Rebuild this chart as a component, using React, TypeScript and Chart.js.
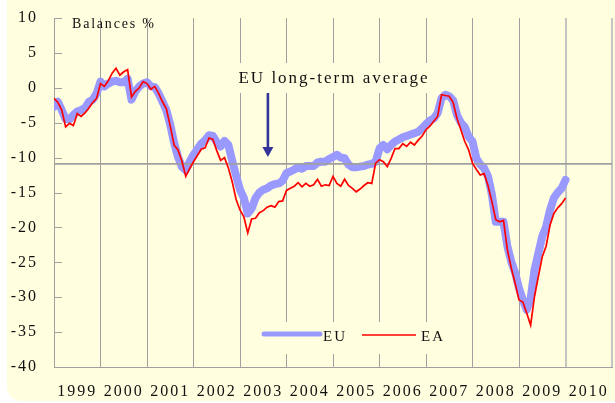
import React, { useEffect, useRef } from 'react';
import { Chart, registerables } from 'chart.js';

Chart.register(...registerables);

// ---------- data ----------
const START_YEAR = 1999; // first monthly observation: January 1999
const YEAR_LABELS = ['1999', '2000', '2001', '2002', '2003', '2004', '2005', '2006', '2007', '2008', '2009', '2010'];
const Y_TICKS = [10, 5, 0, -5, -10, -15, -20, -25, -30, -35, -40];
const EU_LONG_TERM_AVERAGE = -10.9;

const EU = [
  -2.7, -2.0, -3.2, -4.5, -4.5, -3.9, -3.4, -3.2, -2.9, -2.0, -1.7, -0.8,
  0.9, 0.2, 0.6, 0.9, 1.0, 0.8, 0.8, 1.3, -1.7, -0.5, 0.2, 0.6,
  0.8, 0.2, 0.1, -0.8, -2.0, -3.2, -5.3, -7.9, -9.9, -11.3, -11.8, -10.6,
  -9.6, -8.8, -8.0, -7.5, -6.8, -6.9, -7.8, -8.4, -7.6, -8.2, -10.5, -12.6,
  -14.6, -15.8, -18.0, -17.3, -15.8, -15.0, -14.6, -14.4, -14.0, -13.8, -13.7, -13.3,
  -12.2, -12.0, -11.7, -11.4, -11.6, -11.2, -11.2, -11.2, -10.7, -10.6, -10.6, -10.2,
  -9.9, -9.6, -10.0, -10.1, -11.0, -11.4, -11.4, -11.3, -11.2, -11.0, -10.9, -10.6,
  -8.7, -8.2, -8.8, -8.2, -7.7, -7.4, -7.1, -6.9, -6.7, -6.5, -6.3, -5.8,
  -5.2, -4.7, -4.4, -3.6, -1.5, -1.0, -1.2, -1.8, -3.9, -5.0, -5.6, -7.0,
  -7.7, -10.1, -11.0, -11.5, -12.7, -15.3, -19.2, -19.2, -19.2, -22.7, -24.9, -26.5,
  -28.7, -30.4, -31.8, -30.2, -26.1, -23.7, -21.3, -19.9, -17.5, -15.8, -15.0, -14.4,
  -13.2,
];

const EA = [
  -1.5, -2.1, -3.2, -5.6, -5.1, -5.4, -3.7, -4.1, -3.6, -2.9, -2.1, -1.5,
  0.6, 0.2, 1.0, 2.1, 2.8, 1.8, 2.3, 2.6, -1.3, -0.5, 0.0, 0.9,
  0.6, -0.2, 0.2, -0.8, -2.0, -3.0, -5.5, -8.2, -8.9, -10.5, -12.7, -11.6,
  -10.6, -9.7, -8.8, -8.6, -7.2, -7.4, -9.0, -10.4, -10.0, -11.5, -13.5, -16.0,
  -17.5, -18.5, -20.8, -18.8, -18.7, -17.9, -17.6, -17.1, -16.9, -17.1, -16.3, -16.2,
  -14.7, -14.4, -14.1, -13.6, -14.2, -13.7, -14.1, -13.9, -13.1, -14.1, -13.9, -14.0,
  -12.7, -13.7, -14.1, -13.1, -14.0, -14.4, -14.9, -14.5, -14.0, -13.6, -13.7, -10.8,
  -10.3, -10.6, -11.3, -10.1, -8.7, -8.7, -8.0, -8.4, -7.8, -8.2, -7.5, -6.9,
  -6.0, -5.5, -4.8, -4.1, -1.0, -1.1, -1.2, -2.1, -4.4, -6.0, -7.7, -8.9,
  -10.8, -11.7, -12.5, -12.3, -14.0, -16.3, -18.9, -19.2, -19.0, -23.2, -25.8, -28.0,
  -30.4, -30.7, -32.3, -34.0, -29.9, -27.0, -24.2, -22.7, -19.7, -18.0, -17.2, -16.6,
  -15.8,
];

const ANNOTATION_TEXT = 'EU long-term average';
const ANNOTATION_YEAR = 2005;
const ARROW_YEAR = 2003.6;
const ARROW_TIP = -9.9;
const AXIS_TITLE = 'Balances %';
const LEGEND_EU = 'EU';
const LEGEND_EA = 'EA';

// ---------- styles ----------
const BG = '#FFFFE0';
const GRID = '#A0A0A0';
const GRID_LIGHT = '#C4C4C0';
const EU_COLOR = '#9999FF';
const EA_COLOR = '#FF0000';
const ARROW_COLOR = '#333399';
const TEXT = '#111111';
const FONT = '"Liberation Serif", "Times New Roman", serif';

const toPoints = (values: number[]) => values.map((v, i) => ({ x: START_YEAR + i / 12, y: v }));
const X_MIN = START_YEAR;
const X_MAX = START_YEAR + YEAR_LABELS.length;

function text(ctx: CanvasRenderingContext2D, s: string, x: number, y: number, size: number, align: CanvasTextAlign, spacing = 2) {
  ctx.font = `${size}px ${FONT}`;
  (ctx as any).letterSpacing = `${spacing}px`;
  ctx.textAlign = align;
  ctx.textBaseline = 'alphabetic';
  ctx.fillStyle = TEXT;
  ctx.fillText(s, x, y);
}

const zeroPadding = (scale: any) => {
  scale.paddingLeft = 0;
  scale.paddingRight = 0;
  scale.paddingTop = 0;
  scale.paddingBottom = 0;
};

const decor = {
  id: 'decor',
  beforeDraw(chart: any) {
    (chart.ctx as any).letterSpacing = '2px';
  },
  beforeDatasetsDraw(chart: any) {
    const { ctx, chartArea, scales } = chart;
    const xs = scales.x;
    const ys = scales.y;
    const L = chartArea.left;
    ctx.save();
    // inner tick marks on the y axis
    ctx.strokeStyle = GRID;
    ctx.lineWidth = 1;
    Y_TICKS.forEach((v) => {
      const py = Math.round(ys.getPixelForValue(v)) + 0.5;
      ctx.beginPath();
      ctx.moveTo(L, py);
      ctx.lineTo(L + 8, py);
      ctx.stroke();
    });
    // axis title
    text(ctx, AXIS_TITLE, L + 18, chartArea.top + 10, 14, 'left', 1.8);
    // annotation box + text
    ctx.font = `17px ${FONT}`;
    (ctx as any).letterSpacing = '2px';
    const tw = ctx.measureText(ANNOTATION_TEXT).width;
    const cx = xs.getPixelForValue(ANNOTATION_YEAR) + 1;
    const base = chartArea.top + 65;
    ctx.fillStyle = BG;
    ctx.fillRect(cx - tw / 2 - 5, base - 20, tw + 10, 30);
    text(ctx, ANNOTATION_TEXT, cx, base, 17, 'center');
    // legend
    const ly = chartArea.bottom - 33;
    ctx.fillStyle = BG;
    ctx.fillRect(L + 196, ly - 12, 202, 32);
    ctx.lineCap = 'round';
    ctx.strokeStyle = EU_COLOR;
    ctx.lineWidth = 5;
    ctx.beginPath();
    ctx.moveTo(L + 210, ly);
    ctx.lineTo(L + 266, ly);
    ctx.stroke();
    text(ctx, LEGEND_EU, L + 269, ly + 7, 15, 'left');
    ctx.lineCap = 'butt';
    ctx.strokeStyle = EA_COLOR;
    ctx.lineWidth = 1.6;
    ctx.beginPath();
    ctx.moveTo(L + 308, ly + 1);
    ctx.lineTo(L + 362, ly + 1);
    ctx.stroke();
    text(ctx, LEGEND_EA, L + 367, ly + 7, 15, 'left');
    ctx.restore();
  },
  afterDatasetsDraw(chart: any) {
    const { ctx, chartArea, scales } = chart;
    const px = scales.x.getPixelForValue(ARROW_YEAR);
    const tip = scales.y.getPixelForValue(ARROW_TIP);
    const top = chartArea.top + 75;
    ctx.save();
    ctx.strokeStyle = ARROW_COLOR;
    ctx.fillStyle = ARROW_COLOR;
    ctx.lineWidth = 2.6;
    ctx.beginPath();
    ctx.moveTo(px, top);
    ctx.lineTo(px, tip - 9);
    ctx.stroke();
    ctx.beginPath();
    ctx.moveTo(px - 5.5, tip - 10);
    ctx.lineTo(px + 5.5, tip - 10);
    ctx.lineTo(px, tip);
    ctx.closePath();
    ctx.fill();
    ctx.restore();
  },
};

export default function App() {
  const ref = useRef<HTMLCanvasElement>(null);
  useEffect(() => {
    const chart = new Chart(ref.current as HTMLCanvasElement, {
      type: 'line',
      data: {
        datasets: [
          {
            label: 'EA',
            data: toPoints(EA),
            borderColor: EA_COLOR,
            borderWidth: 1.7,
            pointRadius: 0,
            tension: 0,
            order: 0,
          },
          {
            label: 'EU long-term average',
            data: [
              { x: X_MIN, y: EU_LONG_TERM_AVERAGE },
              { x: X_MAX, y: EU_LONG_TERM_AVERAGE },
            ],
            borderColor: GRID,
            borderWidth: 1.8,
            pointRadius: 0,
            order: 1,
          },
          {
            label: 'EU',
            data: toPoints(EU),
            borderColor: EU_COLOR,
            borderWidth: 8,
            borderJoinStyle: 'round',
            borderCapStyle: 'round',
            pointRadius: 0,
            tension: 0,
            order: 2,
          },
        ],
      } as any,
      options: {
        animation: false,
        responsive: false,
        maintainAspectRatio: false,
        events: [],
        layout: { padding: { left: 0, right: 3, top: 18, bottom: 0 } },
        plugins: { legend: { display: false }, tooltip: { enabled: false } },
        scales: {
          x: {
            type: 'linear',
            min: X_MIN,
            max: X_MAX,
            afterBuildTicks: (scale: any) => {
              const t: any[] = [];
              for (let i = 0; i <= YEAR_LABELS.length * 2; i++) t.push({ value: X_MIN + i / 2 });
              scale.ticks = t;
            },
            afterFit: (scale: any) => {
              scale.height = 36;
              zeroPadding(scale);
            },
            ticks: {
              autoSkip: false,
              maxRotation: 0,
              padding: 15,
              color: TEXT,
              font: { family: FONT, size: 16 },
              callback: (v: any) => {
                const idx = Math.floor(Number(v) - X_MIN);
                return Number(v) % 1 === 0.5 ? YEAR_LABELS[idx] : '';
              },
            },
            grid: {
              drawTicks: false,
              color: (c: any) => {
                if (!c.tick || !Number.isInteger(c.tick.value)) return 'rgba(0,0,0,0)';
                return c.tick.value >= X_MAX - 1 ? GRID_LIGHT : GRID;
              },
              lineWidth: (c: any) => (c.tick && c.tick.value >= X_MAX - 1 ? 2 : 1),
            },
            border: { display: true, color: GRID, width: 1 },
          },
          y: {
            type: 'linear',
            min: -40,
            max: 10,
            afterBuildTicks: (scale: any) => {
              scale.ticks = Y_TICKS.map((v) => ({ value: v }));
            },
            afterFit: (scale: any) => {
              scale.width = 54;
              zeroPadding(scale);
            },
            ticks: {
              padding: 16,
              color: TEXT,
              font: { family: FONT, size: 16 },
              callback: (v: any) => String(v),
            },
            grid: { display: false, drawTicks: false },
            border: { display: true, color: GRID, width: 1 },
          },
        },
      } as any,
      plugins: [decor],
    });
    return () => chart.destroy();
  }, []);

  return (
    <div style={{ position: 'absolute', left: 0, top: 0, width: 615, height: 403, background: '#ffffff', overflow: 'hidden' }}>
      <div style={{ position: 'absolute', left: 7, top: -20, width: 640, height: 421, background: BG, borderRadius: 14 }} />
      <canvas ref={ref} width={615} height={403} style={{ position: 'absolute', left: 0, top: 0, width: 615, height: 403 }} />
    </div>
  );
}
